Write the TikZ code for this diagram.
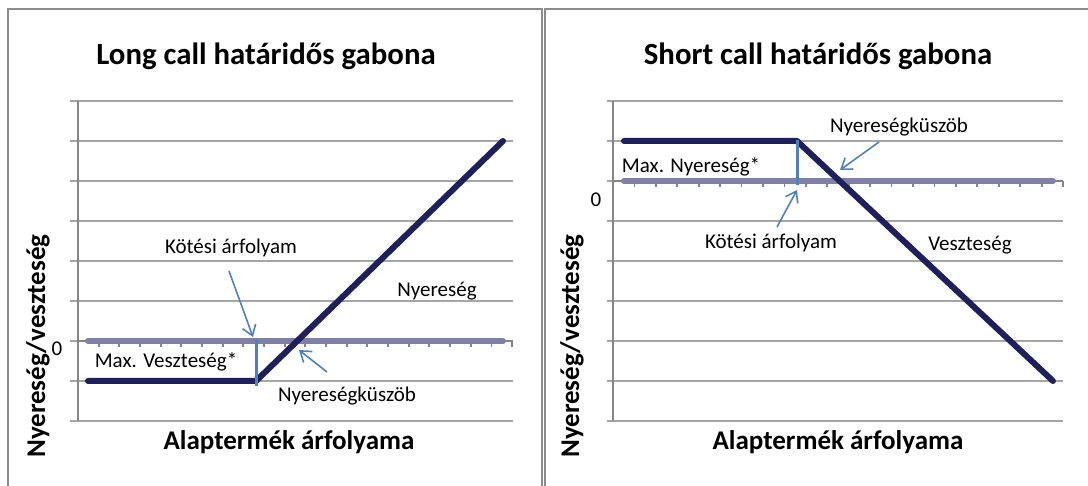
\documentclass[tikz,border=0pt]{standalone}
\usepackage{fontspec}
\setmainfont{Carlito}
\usetikzlibrary{arrows.meta}
\definecolor{gridgray}{HTML}{A6A6A6}
\definecolor{axisgray}{HTML}{868686}
\definecolor{framegray}{HTML}{8C8C8C}
\definecolor{payoff}{HTML}{1F1F5C}
\definecolor{zeroline}{HTML}{8080A6}
\definecolor{markblue}{HTML}{4F81BD}
\begin{document}
\begin{tikzpicture}[x=1pt, y=-1pt,
	grid/.style={gridgray, line width=1.8pt},
	axis/.style={axisgray, line width=1.8pt},
	payline/.style={payoff, line width=6pt, line cap=round, line join=round},
	zero/.style={zeroline, line width=6pt, line cap=round},
	marker/.style={markblue, line width=3pt},
	pointer/.style={markblue, line width=1.6pt, -{Straight Barb[length=10pt, width=14pt]}},
	title/.style={font=\fontsize{30.8}{36}\selectfont\bfseries, anchor=base},
	axtitle/.style={font=\fontsize{27}{32}\selectfont\bfseries},
	lbl/.style={font=\fontsize{21}{25}\selectfont}]
	\clip (0,0) rectangle (1088,486);
	% frames
	\draw[framegray, line width=1.8pt] (8,520) -- (8,9) -- (542,9) -- (542,520);
	\draw[framegray, line width=1.8pt] (545,520) -- (545,9) -- (1120,9);

	% left chart: long call
	\foreach \y in {101,141,...,421} \draw[grid] (70,\y) -- (513,\y);
	\draw[axis] (78,101) -- (78,421);
	\draw[axis] (78,341) -- (513,341);
	\foreach \i in {1,...,21} \draw[axis] ({78+\i*20.67},341) -- ++(0,6);
	\draw[zero] (88,341) -- (503,341);
	\coordinate (L0) at (88,381);
	\coordinate (Lk) at (256,381);
	\coordinate (Lend) at (503,141);
	\draw[payline] (L0) -- (Lk) -- (Lend);
	\coordinate (Lmtop) at (256,340);
	\coordinate (Lmbot) at (256,386);
	\draw[marker] (Lmtop) -- (Lmbot);
	\node[title] (titleL) at (266,65) {Long call határidős gabona};
	\node[lbl] (zeroL) at (57,349) {0};
	\node[lbl] (maxL) at (166,362) {Max. Veszteség*};
	\node[lbl] (strikeL) at (231,248) {Kötési árfolyam};
	\node[lbl] (profitL) at (437,291) {Nyereség};
	\node[lbl] (beL) at (347,396) {Nyereségküszöb};
	\node[axtitle] (xL) at (289,442) {Alaptermék árfolyama};
	\node[axtitle, rotate=90] (yL) at (38,346) {Nyereség/veszteség};
	\coordinate (strikeLtail) at (229,271);
	\coordinate (strikeLtip) at (253,337);
	\draw[pointer] (strikeLtail) -- (strikeLtip);
	\coordinate (beLtail) at (327,372);
	\coordinate (beLtip) at (299,350);
	\draw[pointer] (beLtail) -- (beLtip);

	% right chart: short call
	\foreach \y in {101,141,...,421} \draw[grid] (607,\y) -- (1063,\y);
	\draw[axis] (613,101) -- (613,421);
	\draw[axis] (613,181) -- (1063,181);
	\foreach \i in {1,...,21} \draw[axis] ({613+\i*21.43},181) -- ++(0,6);
	\draw[zero] (624,181) -- (1053,181);
	\coordinate (R0) at (624,141);
	\coordinate (Rk) at (797,141);
	\coordinate (Rend) at (1053,381);
	\draw[payline] (R0) -- (Rk) -- (Rend);
	\coordinate (Rmtop) at (797,140);
	\coordinate (Rmbot) at (797,185);
	\draw[marker] (Rmtop) -- (Rmbot);
	\node[title] (titleR) at (818,65) {Short call határidős gabona};
	\node[lbl] (zeroR) at (596,200) {0};
	\node[lbl] (maxR) at (691,167) {Max. Nyereség*};
	\node[lbl] (beR) at (899,127) {Nyereségküszöb};
	\node[lbl] (strikeR) at (771,243) {Kötési árfolyam};
	\node[lbl] (lossR) at (970,245) {Veszteség};
	\node[axtitle] (xR) at (838,442) {Alaptermék árfolyama};
	\node[axtitle, rotate=90] (yR) at (572,346) {Nyereség/veszteség};
	\coordinate (strikeRtail) at (777,227);
	\coordinate (strikeRtip) at (797,190);
	\draw[pointer] (strikeRtail) -- (strikeRtip);
	\coordinate (beRtail) at (879,142);
	\coordinate (beRtip) at (840,170);
	\draw[pointer] (beRtail) -- (beRtip);
\end{tikzpicture}
\end{document}
